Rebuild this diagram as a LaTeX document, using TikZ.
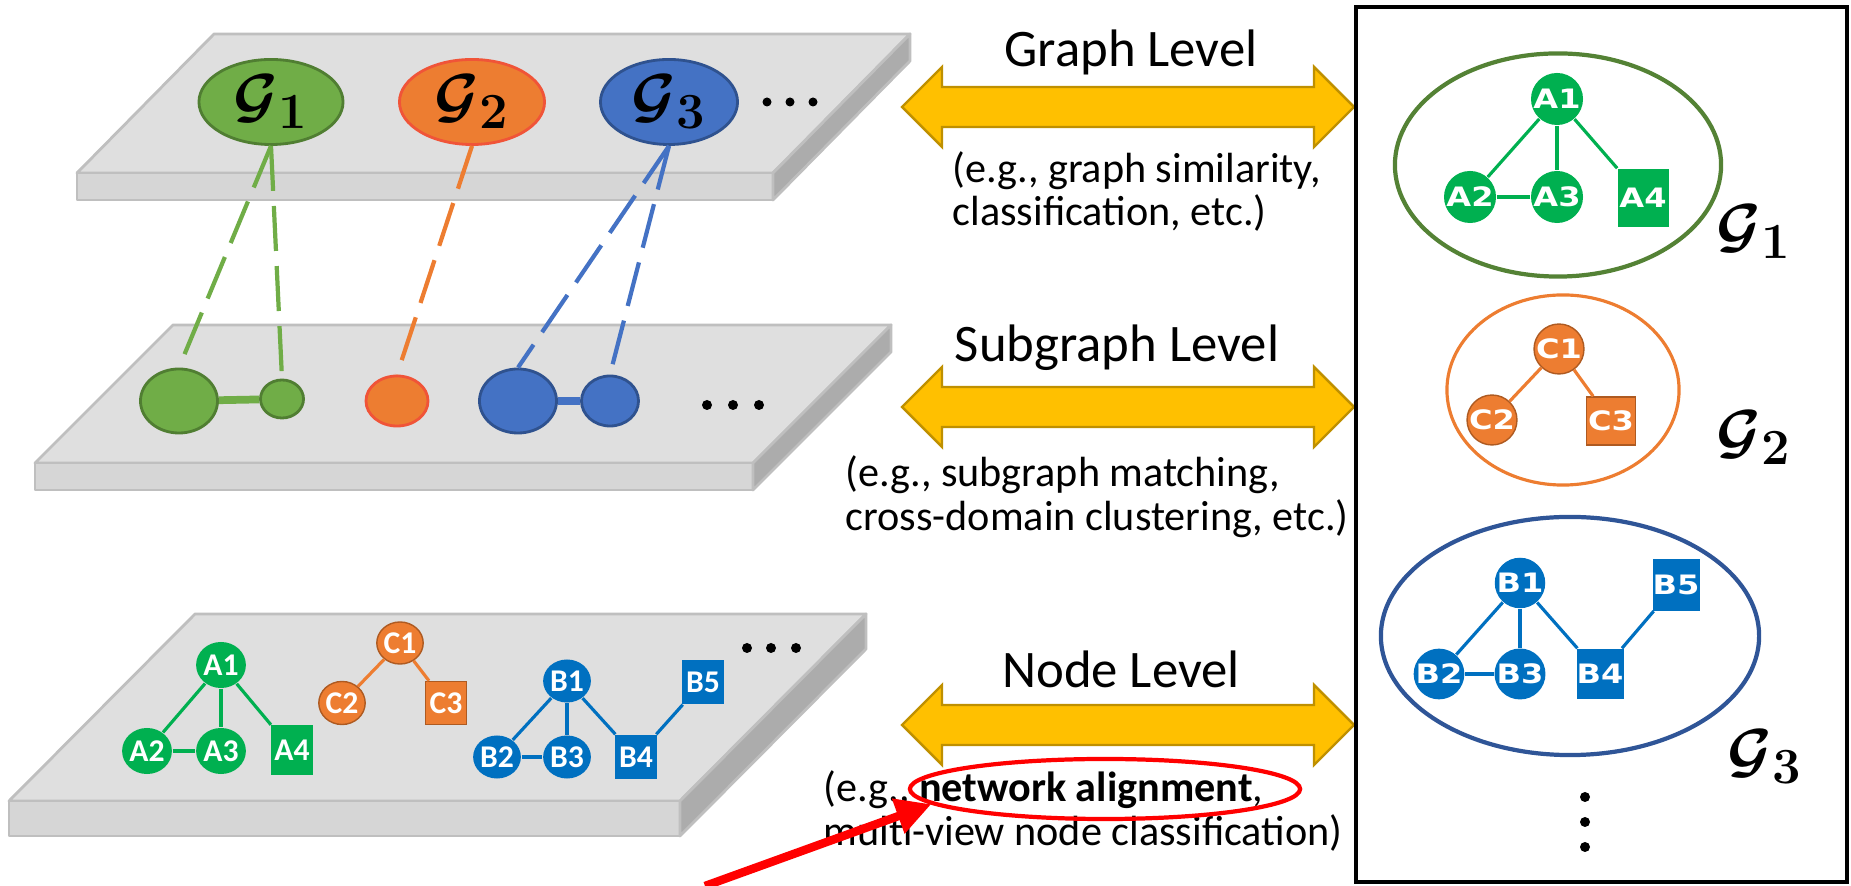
\documentclass[tikz,border=0pt]{standalone}
\usepackage{fontspec}
\setmainfont{Carlito}
\newfontfamily\ringfont[FakeStretch=1.2]{DejaVu Sans}
\usepackage{amsmath,bm}
\usetikzlibrary{
  shapes.geometric,
  arrows.meta,
  backgrounds
}
\definecolor{slabtop}{RGB}{223,223,223}
\definecolor{slabfront}{RGB}{214,214,214}
\definecolor{slabside}{RGB}{172,172,172}
\definecolor{slabedge}{RGB}{191,191,191}
\definecolor{gfill}{RGB}{112,173,71}
\definecolor{gedge}{RGB}{80,126,50}
\definecolor{ofill}{RGB}{237,125,49}
\definecolor{oedge}{RGB}{240,84,56}
\definecolor{bfill}{RGB}{68,114,196}
\definecolor{bedge}{RGB}{47,82,143}
\definecolor{nodegreen}{RGB}{0,176,80}
\definecolor{nodeorange}{RGB}{237,125,49}
\definecolor{nodeorangeedge}{RGB}{174,90,33}
\definecolor{nodeblue}{RGB}{0,112,192}
\definecolor{ringgreen}{RGB}{84,130,53}
\definecolor{ringblue}{RGB}{47,85,151}
\definecolor{arrowfill}{RGB}{255,192,0}
\definecolor{arrowedge}{RGB}{191,144,0}
\definecolor{hlred}{RGB}{255,0,0}
\newcommand{\glabel}[1]{$\bm{\mathcal{G}}_{\bm{#1}}$}
%% one grey layer: top-left x, top y, front-left x, front top y, front right x, depth
\newcommand{\drawslab}[6]{%
  \draw[slab, fill=slabtop] (#1,#2) -- ({#5+#1-#3},#2) -- (#5,#4) -- (#3,#4) -- cycle;
  \draw[slab, fill=slabfront] (#3,#4) rectangle (#5,{#4+#6});
  \draw[slab, fill=slabside] (#5,#4) -- ({#5+#1-#3},#2) -- ({#5+#1-#3},{#2+#6})
    -- (#5,{#4+#6}) -- cycle;}
%% yellow double arrow on the axis y = #1
\newcommand{\levelarrow}[1]{%
  \draw[levelarr] (902,#1) -- ++(40,-40) -- ++(0,20) -- (1314,{#1-20}) -- ++(0,-20)
    -- (1354,#1) -- ++(-40,40) -- ++(0,-20) -- (942,{#1+20}) -- ++(0,20) -- cycle;}
\tikzset{
  slab/.style={draw=slabedge, line width=0.8pt, line join=round},
  levelnode/.style={
    ellipse, line width=0.8pt, inner sep=0pt,
    font=\fontsize{19}{22}\selectfont
  },
  subnode/.style={ellipse, line width=0.8pt, inner sep=0pt},
  subedge/.style={line width=2.2pt},
  linkdash/.style={line width=1.2pt, dash pattern=on 12.8pt off 4.3pt},
  lnode/.style={
    ellipse, inner sep=0pt, text=white,
    minimum width=0.41cm, minimum height=0.46cm,
    font=\fontsize{9}{10}\selectfont\bfseries
  },
  lsquare/.style={
    rectangle, inner sep=0pt, text=white,
    minimum width=0.41cm, minimum height=0.46cm,
    font=\fontsize{9}{10}\selectfont\bfseries
  },
  rnode/.style={
    circle, inner sep=0pt, text=white, minimum size=0.5cm,
    font=\ringfont\bfseries\fontsize{7.6}{8}\selectfont
  },
  rsquare/.style={
    rectangle, inner sep=0pt, text=white,
    minimum width=0.49cm, minimum height=0.53cm,
    font=\ringfont\bfseries\fontsize{7.6}{8}\selectfont
  },
  ring/.style={ellipse, inner sep=0pt, line width=1.2pt},
  graphedge/.style={line width=0.9pt},
  ringlabel/.style={font=\fontsize{19}{22}\selectfont, inner sep=0pt},
  leveltitle/.style={font=\fontsize{15}{18}\selectfont, anchor=base, inner sep=0pt},
  leveldesc/.style={font=\fontsize{12}{14}\selectfont, anchor=base west, inner sep=0pt},
  levelarr/.style={fill=arrowfill, draw=arrowedge, line width=0.7pt, line join=miter},
  hlring/.style={ellipse, draw=hlred, line width=1.2pt, inner sep=0pt},
  hlarrow/.style={-{Triangle[length=10pt,width=10pt]}, draw=hlred, line width=2.4pt},
  frame/.style={draw=black, line width=1.4pt}
}
\begin{document}
\begin{tikzpicture}[x=0.01cm, y=-0.01cm]
  \useasboundingbox (0,0) rectangle (1851,886);

  %% Grey layers
  \begin{scope}[on background layer]
    \drawslab{214}{34}{77}{173}{773}{27}
    \drawslab{173}{325}{35}{463}{753}{27}
    \drawslab{195}{614}{9}{801}{680}{35}
  \end{scope}

  %% Graph layer
  \node[levelnode, fill=gfill, draw=gedge, minimum width=1.44cm, minimum height=0.85cm]
    (G1) at (271,102) {\glabel{1}};
  \node[levelnode, fill=ofill, draw=oedge, minimum width=1.45cm, minimum height=0.85cm]
    (G2) at (472,102) {\glabel{2}};
  \node[levelnode, fill=bfill, draw=bedge, minimum width=1.37cm, minimum height=0.85cm]
    (G3) at (669,102) {\glabel{3}};
  \foreach \dx in {767,790,813}
    \fill (\dx,102) circle (4.5);

  %% Subgraph layer
  \node[subnode, fill=gfill, draw=gedge, minimum width=0.77cm, minimum height=0.64cm]
    (sa) at (179,401) {};
  \node[subnode, fill=gfill, draw=gedge, minimum width=0.43cm, minimum height=0.38cm]
    (sb) at (282,399) {};
  \node[subnode, fill=ofill, draw=oedge, minimum width=0.62cm, minimum height=0.50cm]
    (sc) at (397,401) {};
  \node[subnode, fill=bfill, draw=bedge, minimum width=0.77cm, minimum height=0.64cm]
    (sd) at (518,401) {};
  \node[subnode, fill=bfill, draw=bedge, minimum width=0.57cm, minimum height=0.50cm]
    (se) at (610,401) {};
  \draw[subedge, draw=gfill] (sa) -- (sb);
  \draw[subedge, draw=bfill] (sd) -- (se);
  \foreach \dx in {707,733,759}
    \fill (\dx,405) circle (5);

  %% Links between the two upper layers
  \draw[linkdash, draw=gfill] (G1.south) -- (sa.north);
  \draw[linkdash, draw=gfill] (G1.south) -- (sb.north);
  \draw[linkdash, draw=ofill] (G2.south) -- (sc.north);
  \draw[linkdash, draw=bfill] (G3.south) -- (sd.north);
  \draw[linkdash, draw=bfill] (G3.south) -- (se.north);

  %% Node layer
  \node[lnode, fill=nodegreen] (a1) at (221,665) {A1};
  \node[lnode, fill=nodegreen] (a2) at (147,751) {A2};
  \node[lnode, fill=nodegreen] (a3) at (221,751) {A3};
  \node[lsquare, fill=nodegreen, minimum height=0.49cm] (a4) at (292,750) {A4};
  \node[lnode, fill=nodeorange, draw=nodeorangeedge, minimum height=0.42cm] (c1) at (400,643) {C1};
  \node[lnode, fill=nodeorange, draw=nodeorangeedge, minimum height=0.43cm] (c2) at (342,703) {C2};
  \node[lsquare, fill=nodeorange, draw=nodeorangeedge, minimum height=0.43cm] (c3) at (446,703) {C3};
  \node[lnode, fill=nodeblue, minimum width=0.39cm, minimum height=0.43cm] (b1) at (567,681) {B1};
  \node[lnode, fill=nodeblue, minimum width=0.39cm, minimum height=0.43cm] (b2) at (497,757) {B2};
  \node[lnode, fill=nodeblue, minimum width=0.39cm, minimum height=0.43cm] (b3) at (567,757) {B3};
  \node[lsquare, fill=nodeblue, minimum height=0.44cm] (b4) at (636,757) {B4};
  \node[lsquare, fill=nodeblue, minimum height=0.44cm] (b5) at (703,682) {B5};
  \draw[graphedge, draw=nodegreen] (a1) -- (a2);
  \draw[graphedge, draw=nodegreen] (a1) -- (a3);
  \draw[graphedge, draw=nodegreen] (a1) -- (a4);
  \draw[graphedge, draw=nodegreen] (a2) -- (a3);
  \draw[graphedge, draw=nodeorange] (c1) -- (c2);
  \draw[graphedge, draw=nodeorange] (c1) -- (c3);
  \draw[graphedge, draw=nodeblue] (b1) -- (b2);
  \draw[graphedge, draw=nodeblue] (b1) -- (b3);
  \draw[graphedge, draw=nodeblue] (b1) -- (b4);
  \draw[graphedge, draw=nodeblue] (b2) -- (b3);
  \draw[graphedge, draw=nodeblue] (b4) -- (b5);
  \foreach \dx in {747,771,796}
    \fill (\dx,648) circle (5);

  %% Levels
  \levelarrow{107}
  \levelarrow{407}
  \levelarrow{725}
  \node[leveltitle] (tgraph) at (1131,67) {Graph Level};
  \node[leveltitle] (tsub) at (1117,362) {Subgraph Level};
  \node[leveltitle] (tnode) at (1121,688) {Node Level};
  \node[leveldesc] (dgraph) at (952,183) {(e.g., graph similarity,};
  \node[leveldesc] (dgraphb) at (952,226) {classification, etc.)};
  \node[leveldesc] (dsub) at (845,487) {(e.g., subgraph matching,};
  \node[leveldesc] (dsubb) at (845,531) {cross-domain clustering, etc.)};
  \node[leveldesc] (dnode) at (823,802) {(e.g., \textbf{network alignment},};
  \node[leveldesc] (dnodeb) at (823,846) {multi-view node classification)};

  %% Highlight
  \node[hlring, minimum width=3.9cm, minimum height=0.6cm] (hl) at (1105,789) {};
  \coordinate (hltail) at (705,886);
  \draw[hlarrow] (hltail) -- (hl.185);

  %% Graphs in the frame
  \draw[frame] (1356,7) rectangle (1847,882);
  \node[ring, draw=ringgreen, minimum width=3.26cm, minimum height=2.23cm] (ringA) at (1558,165) {};
  \node[ring, draw=nodeorange, line width=0.9pt, minimum width=2.32cm, minimum height=1.9cm]
    (ringC) at (1563,390) {};
  \node[ring, draw=ringblue, minimum width=3.78cm, minimum height=2.38cm] (ringB) at (1570,636) {};

  \node[rnode, fill=nodegreen, minimum size=0.52cm] (ra1) at (1557,99) {A1};
  \node[rnode, fill=nodegreen, minimum size=0.52cm] (ra2) at (1470,197) {A2};
  \node[rnode, fill=nodegreen, minimum size=0.52cm] (ra3) at (1557,197) {A3};
  \node[rsquare, fill=nodegreen, minimum width=0.51cm, minimum height=0.58cm] (ra4) at (1643,198) {A4};
  \node[rnode, fill=nodeorange, draw=nodeorangeedge, minimum size=0.48cm] (rc1) at (1559,349) {C1};
  \node[rnode, fill=nodeorange, draw=nodeorangeedge, minimum size=0.48cm] (rc2) at (1492,420) {C2};
  \node[rsquare, fill=nodeorange, draw=nodeorangeedge, minimum height=0.48cm] (rc3) at (1611,421) {C3};
  \node[rnode, fill=nodeblue, minimum size=0.48cm] (rb1) at (1520,583) {B1};
  \node[rnode, fill=nodeblue, minimum size=0.48cm] (rb2) at (1439,674) {B2};
  \node[rnode, fill=nodeblue, minimum size=0.48cm] (rb3) at (1520,674) {B3};
  \node[rsquare, fill=nodeblue, minimum width=0.47cm, minimum height=0.5cm] (rb4) at (1600,674) {B4};
  \node[rsquare, fill=nodeblue, minimum width=0.47cm, minimum height=0.51cm] (rb5) at (1676,585) {B5};
  \draw[graphedge, draw=nodegreen] (ra1) -- (ra2);
  \draw[graphedge, draw=nodegreen] (ra1) -- (ra3);
  \draw[graphedge, draw=nodegreen] (ra1) -- (ra4);
  \draw[graphedge, draw=nodegreen] (ra2) -- (ra3);
  \draw[graphedge, draw=nodeorange] (rc1) -- (rc2);
  \draw[graphedge, draw=nodeorange] (rc1) -- (rc3);
  \draw[graphedge, draw=nodeblue] (rb1) -- (rb2);
  \draw[graphedge, draw=nodeblue] (rb1) -- (rb3);
  \draw[graphedge, draw=nodeblue] (rb1) -- (rb4);
  \draw[graphedge, draw=nodeblue] (rb2) -- (rb3);
  \draw[graphedge, draw=nodeblue] (rb4) -- (rb5);

  \node[ringlabel] (lA) at (1754,232) {\glabel{1}};
  \node[ringlabel] (lC) at (1754,438) {\glabel{2}};
  \node[ringlabel] (lB) at (1765,757) {\glabel{3}};
  \foreach \dy in {797,822,847}
    \fill (1585,\dy) circle (5);

\end{tikzpicture}
\end{document}
